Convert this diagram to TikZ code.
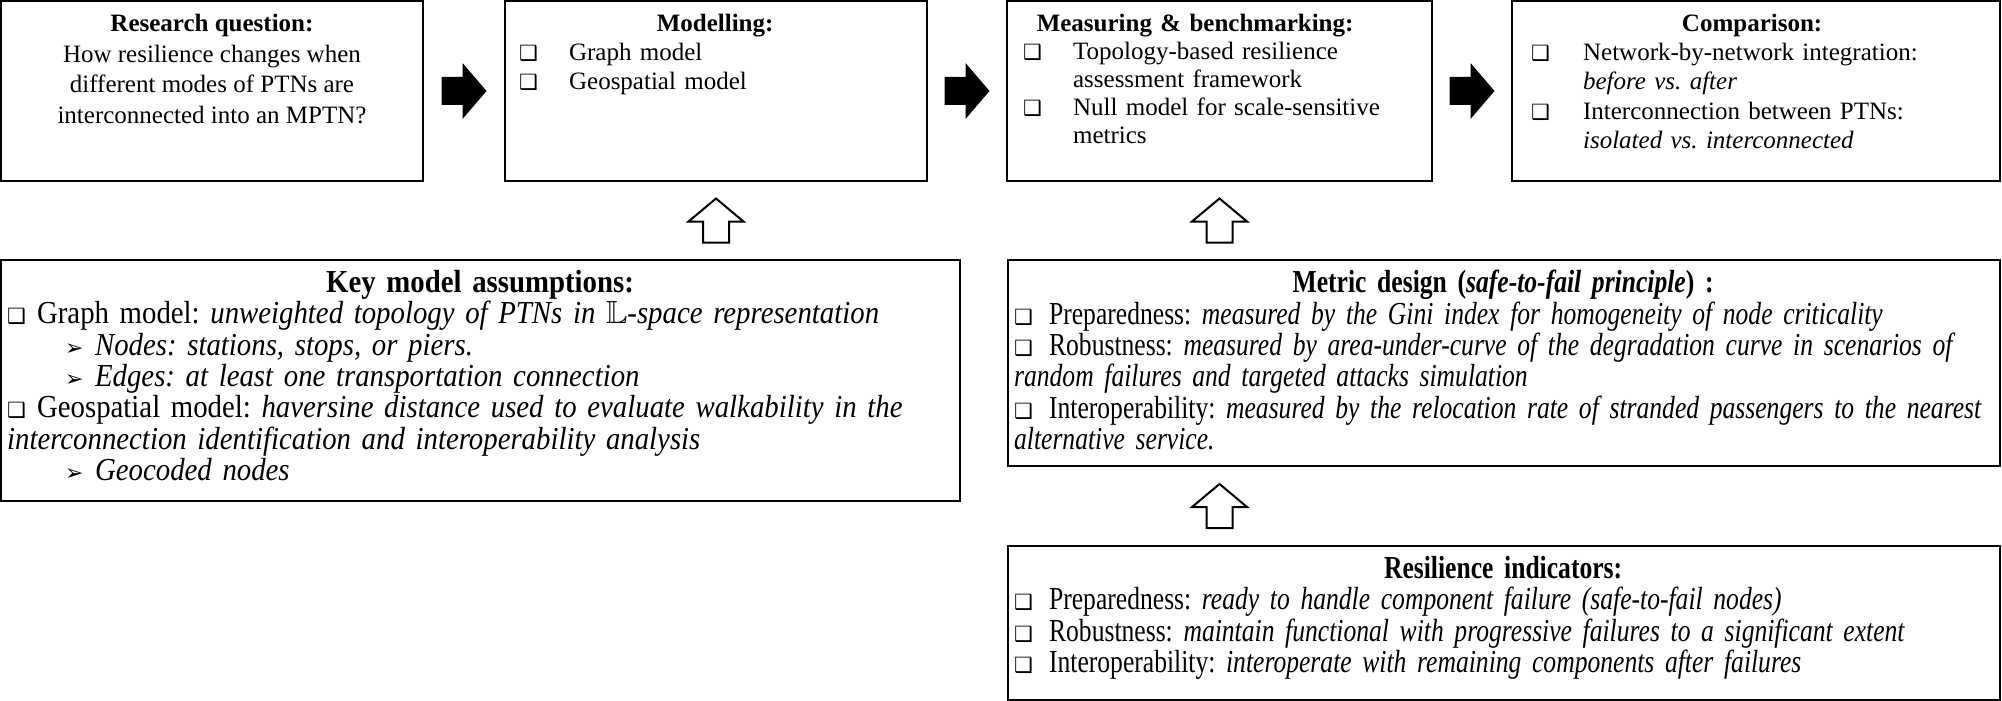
\documentclass[tikz,border=0pt]{standalone}
\usepackage{fontspec}
\usepackage{amssymb}
\setmainfont{Liberation Serif}
\newfontfamily\narrowfont[FakeStretch=0.9]{Liberation Serif}
\newfontfamily\narrowerfont[FakeStretch=0.8]{Liberation Serif}
\newfontfamily\dingfont{DejaVu Sans}
\usetikzlibrary{calc}
\setlength{\parindent}{0pt}
\frenchspacing
\newcommand{\qsym}{{\dingfont\fontsize{10.5}{10}\selectfont ❑}}
\newcommand{\qitem}[1]{\makebox[#1][l]{\qsym}}
\newcommand{\aitem}[1]{\makebox[#1][l]{\dingfont\fontsize{11}{10}\selectfont ➢}}

\begin{document}
\begin{tikzpicture}[x=0.5pt,y=-0.5pt,
    box/.style={draw,line width=1.3pt,inner sep=0pt},
    txt/.style={inner sep=0pt,font=\fontsize{12.5}{14.6}\selectfont},
    ntxt/.style={inner sep=0pt,font=\narrowfont\fontsize{16}{15.7}\selectfont},
    nntxt/.style={inner sep=0pt,font=\narrowerfont\fontsize{16}{15.7}\selectfont},
    rightarr/.pic={\fill (-22.5,-14) -- (-1.5,-14) -- (-1.5,-28) -- (22.5,0) -- (-1.5,28) -- (-1.5,14) -- (-22.5,14) -- cycle;},
    uparr/.pic={\draw[line width=1pt,fill=white] (-13,22) -- (-13,1) -- (-27.5,1) -- (0,-22) -- (27.5,1) -- (13,1) -- (13,22) -- cycle;}]
	\useasboundingbox (0,0) rectangle (2002,701);

	% top row
	\node[box,minimum width=211pt,minimum height=90pt] (rq) at (212,91) {};
	\node[box,minimum width=211pt,minimum height=90pt] (model) at (716,91) {};
	\node[box,minimum width=212.5pt,minimum height=90pt] (measure) at (1219.5,91) {};
	\node[box,minimum width=244pt,minimum height=90pt] (compare) at (1756,91) {};
	% lower boxes
	\node[box,minimum width=479.5pt,minimum height=120.5pt] (assume) at (480.5,380.5) {};
	\node[box,minimum width=496pt,minimum height=103pt] (metric) at (1504,363) {};
	\node[box,minimum width=496pt,minimum height=77pt] (resil) at (1504,623) {};

	\node[txt,anchor=north,align=center,font=\fontsize{12.5}{15.3}\selectfont] (rqtext) at ([shift={(0,14)}]rq.north)
		{\textbf{Research question:}\\How resilience changes when\\different modes of PTNs are\\interconnected into an MPTN?};
	\node[txt,anchor=north west,text width=196pt] (modeltext) at ([shift={(15,14)}]model.north west)
		{\centering\textbf{Modelling:}\par\raggedright
		\qitem{25pt}Graph model\\
		\qitem{25pt}Geospatial model};
	\node[txt,anchor=north west,text width=196pt,font=\fontsize{12.5}{14}\selectfont] (measuretext) at ([shift={(17,14)}]measure.north west)
		{\centering\textbf{Measuring \& benchmarking:}\hspace*{24pt}\par\raggedright
		\qitem{25pt}Topology-based resilience\\
		\hspace*{25pt}assessment framework\\
		\qitem{25pt}Null model for scale-sensitive\\
		\hspace*{25pt}metrics};
	\node[txt,anchor=north west,text width=221pt] (comparetext) at ([shift={(20,14)}]compare.north west)
		{\centering\textbf{Comparison:}\par\raggedright
		\qitem{26pt}Network-by-network integration:\\
		\hspace*{26pt}\textit{before vs. after}\\
		\qitem{26pt}Interconnection between PTNs:\\
		\hspace*{26pt}\textit{isolated vs. interconnected}};

	\node[ntxt,anchor=north west,text width=473pt] (assumetext) at ([shift={(7,11)}]assume.north west)
		{\centering\textbf{Key model assumptions:}\par\raggedright
		\qitem{15pt}Graph model: \textit{unweighted topology of PTNs in $\mathbb{L}$-space representation}\\
		\hspace*{29pt}\aitem{15pt}\textit{Nodes: stations, stops, or piers.}\\
		\hspace*{29pt}\aitem{15pt}\textit{Edges: at least one transportation connection}\\
		\qitem{15pt}Geospatial model: \textit{haversine distance used to evaluate walkability in the}\\
		\textit{interconnection identification and interoperability analysis}\\
		\hspace*{29pt}\aitem{15pt}\textit{Geocoded nodes}};
	\node[nntxt,anchor=north west,text width=489pt] (metrictext) at ([shift={(7,11)}]metric.north west)
		{\centering\textbf{Metric design (\textit{safe-to-fail principle}) :}\par\raggedright
		\qitem{17.5pt}Preparedness: \textit{measured by the Gini index for homogeneity of node criticality}\\
		\qitem{17.5pt}Robustness: \textit{measured by area-under-curve of the degradation curve in scenarios of}\\
		\textit{random failures and targeted attacks simulation}\\
		\qitem{17.5pt}Interoperability: \textit{measured by the relocation rate of stranded passengers to the nearest}\\
		\textit{alternative service.}};
	\node[nntxt,anchor=north west,text width=489pt] (resiltext) at ([shift={(7,11)}]resil.north west)
		{\centering\textbf{Resilience indicators:}\par\raggedright
		\qitem{17.5pt}Preparedness: \textit{ready to handle component failure (safe-to-fail nodes)}\\
		\qitem{17.5pt}Robustness: \textit{maintain functional with progressive failures to a significant extent}\\
		\qitem{17.5pt}Interoperability: \textit{interoperate with remaining components after failures}};

	% arrows
	\pic at ($(rq.east)!.5!(model.west)$) {rightarr};
	\pic at ($(model.east)!.5!(measure.west)$) {rightarr};
	\pic at ($(measure.east)!.5!(compare.west)$) {rightarr};
	\pic at ($(model.south)!.5!(model.south |- assume.north)$) {uparr};
	\pic at ($(measure.south)!.5!(measure.south |- metric.north)$) {uparr};
	\pic at ($(measure.south |- metric.south)!.5!(measure.south |- resil.north)$) {uparr};
\end{tikzpicture}
\end{document}
